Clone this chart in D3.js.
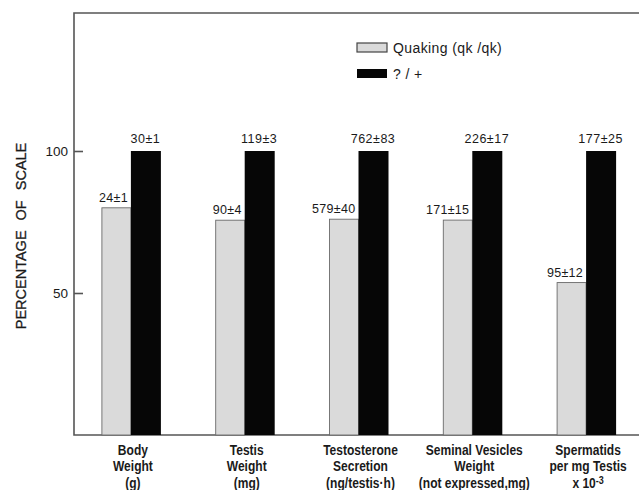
<!DOCTYPE html>
<html>
<head>
<meta charset="utf-8">
<script src="https://cdn.jsdelivr.net/npm/d3@7"></script>
<style>
  html, body { margin: 0; padding: 0; background: #ffffff; }
  svg { display: block; }
  .lbl { font-family: "Liberation Sans", Arial, sans-serif; fill: #1a1a1a; }
</style>
</head>
<body>
<svg id="chart" width="639" height="490"></svg>
<script>
// Measures for quaking (qk/qk) mice and their ?/+ littermates (mean ± SE)
const categories = [
  ["Body", "Weight", "(g)"],
  ["Testis", "Weight", "(mg)"],
  ["Testosterone", "Secretion", "(ng/testis\u00b7h)"],
  ["Seminal Vesicles", "Weight", "(not expressed,mg)"],
  ["Spermatids", "per mg Testis", "x 10^-3"]
];
const quakingMean = [24, 90, 579, 171, 95];
const quakingSE   = [1, 4, 40, 15, 12];
const controlMean = [30, 119, 762, 226, 177];
const controlSE   = [1, 3, 83, 17, 25];
const yTicks = [50, 100];
const legendLabels = ["Quaking (qk /qk)", "? / +"];

// Each group is scaled so that the ?/+ value equals 100 %
const quakingPct = quakingMean.map((v, i) => v / controlMean[i] * 100);
const controlPct = controlMean.map(() => 100);

const svg = d3.select("#chart");
const frameLeft = 74, frameTop = 13, frameBottom = 435, bandRight = 643;

const x = d3.scaleBand().domain(d3.range(categories.length)).range([frameLeft, bandRight]);
const y = d3.scaleLinear().domain([0, 100]).range([frameBottom, 151]);
const barW = 29;

const greyFill = "#dadada";
const blackFill = "#060606";

// plot frame (open on the right)
svg.append("path")
  .attr("d", `M${639 + 5},${frameTop}H${frameLeft}V${frameBottom}H${639 + 5}`)
  .attr("fill", "none")
  .attr("stroke", "#555")
  .attr("stroke-width", 1.6);

// y axis: inward ticks, labels to the left of the frame
const yAxis = d3.axisLeft(y).tickValues(yTicks).tickSizeInner(-9).tickSizeOuter(0).tickPadding(6);
const gy = svg.append("g").attr("transform", `translate(${frameLeft},0)`).call(yAxis);
gy.select(".domain").remove();
gy.selectAll(".tick line").attr("stroke", "#555").attr("stroke-width", 1.6);
gy.selectAll(".tick text")
  .attr("class", "lbl")
  .style("font-size", "13.5px")
  .attr("fill", "#3a3a3a");

// y axis title
svg.append("text")
  .attr("class", "lbl")
  .attr("transform", "translate(26,236) rotate(-90)")
  .attr("text-anchor", "middle")
  .style("font-size", "14.5px")
  .style("word-spacing", "6px")
  .attr("fill", "#222")
  .attr("stroke", "#222")
  .attr("stroke-width", 0.3)
  .text("PERCENTAGE OF SCALE");

const center = i => x(i) + x.bandwidth() / 2;

// quaking bars
svg.append("g").selectAll("rect")
  .data(quakingPct)
  .join("rect")
  .attr("x", (d, i) => center(i) - barW)
  .attr("y", d => y(d))
  .attr("width", barW)
  .attr("height", d => y(0) - y(d))
  .attr("fill", greyFill)
  .attr("stroke", "#6a6a6a")
  .attr("stroke-width", 0.9);

// ?/+ bars
svg.append("g").selectAll("rect")
  .data(controlPct)
  .join("rect")
  .attr("x", (d, i) => center(i))
  .attr("y", d => y(d))
  .attr("width", barW + 1)
  .attr("height", d => y(0) - y(d))
  .attr("fill", blackFill);

// value labels (mean ± SE)
const valueFont = "12.5px";
svg.append("g").selectAll("text")
  .data(quakingMean)
  .join("text")
  .attr("class", "lbl")
  .attr("x", (d, i) => center(i) - 3)
  .attr("y", (d, i) => y(quakingPct[i]) - 6)
  .attr("text-anchor", "end")
  .style("font-size", valueFont)
  .style("letter-spacing", "0.3px")
  .attr("fill", "#333")
  .text((d, i) => `${d}\u00b1${quakingSE[i]}`);

svg.append("g").selectAll("text")
  .data(controlMean)
  .join("text")
  .attr("class", "lbl")
  .attr("x", (d, i) => center(i) + barW / 2)
  .attr("y", (d, i) => y(controlPct[i]) - 8)
  .attr("text-anchor", "middle")
  .style("font-size", valueFont)
  .style("letter-spacing", "0.5px")
  .attr("fill", "#333")
  .text((d, i) => `${d}\u00b1${controlSE[i]}`);

// category labels, three lines each, horizontally condensed
const cat = svg.append("g").selectAll("text")
  .data(categories)
  .join("text")
  .attr("class", "lbl")
  .attr("transform", (d, i) => `translate(${center(i) + 2},0) scale(0.86,1)`)
  .attr("text-anchor", "middle")
  .style("font-size", "14px")
  .style("font-weight", "bold")
  .attr("fill", "#111");

cat.each(function (lines) {
  const t = d3.select(this);
  lines.forEach((line, k) => {
    const ts = t.append("tspan")
      .attr("x", 0)
      .attr("y", 455 + k * 16.5);
    const m = line.match(/^(.*)\^(.*)$/);
    if (m) {
      ts.text(m[1]);
      t.append("tspan").attr("dy", -4).style("font-size", "10.5px").text(m[2]);
    } else {
      ts.text(line);
    }
  });
});

// legend
const legend = svg.append("g").attr("transform", "translate(357,43)");
const swatches = [greyFill, blackFill];
legendLabels.forEach((label, i) => {
  const g = legend.append("g").attr("transform", `translate(0,${i * 26})`);
  g.append("rect")
    .attr("width", 30).attr("height", 9)
    .attr("fill", swatches[i])
    .attr("stroke", i === 0 ? "#444" : "none")
    .attr("stroke-width", 1.2);
  g.append("text")
    .attr("class", "lbl")
    .attr("x", 36).attr("y", 9.5)
    .style("font-size", "14px")
    .style("letter-spacing", "0.4px")
    .attr("fill", "#222")
    .text(label);
});
</script>
</body>
</html>
